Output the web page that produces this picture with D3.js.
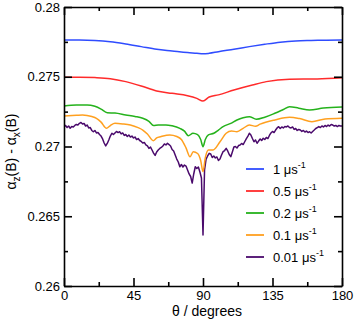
<!DOCTYPE html>
<html>
<head>
<meta charset="utf-8">
<script src="https://cdn.jsdelivr.net/npm/d3@7"></script>
<style>
  body { margin: 0; background: #fff; }
  svg { display: block; font-family: "Liberation Sans", Arial, sans-serif; }
</style>
</head>
<body>
<div class="chart"></div>
<script>
// theta in degrees, value = alpha_z(B) - alpha_x(B)
const blueData = [[0,0.27763],[10,0.27763],[20,0.27760],[30,0.27751],[40,0.27735],[50,0.27716],[60,0.27697],[70,0.27685],[80,0.27673],[86,0.27668],[90,0.27664],[94,0.27668],[100,0.27680],[110,0.27697],[120,0.27716],[130,0.27733],[140,0.27748],[150,0.27757],[160,0.27760],[170,0.27762],[180,0.27763]];

const redData = [[0,0.27496],[10,0.27497],[20,0.27494],[30,0.27486],[40,0.27465],[50,0.27434],[60,0.27398],[70,0.27381],[80,0.27364],[86,0.27345],[90,0.27326],[94,0.27355],[100,0.27370],[110,0.27405],[122,0.27441],[131,0.27465],[146,0.27482],[164,0.27484],[180,0.27493]];

const greenData = [[0,0.27290],[8,0.27298],[15,0.27298],[20,0.27288],[24,0.27268],[28,0.27242],[33,0.27240],[40,0.27226],[46,0.27215],[51,0.27202],[55,0.27180],[58,0.27150],[61,0.27155],[66,0.27155],[70,0.27148],[75,0.27130],[78,0.27110],[80.5,0.27077],[83.5,0.27095],[86.5,0.27085],[88.5,0.27050],[90,0.26999],[91.5,0.27050],[93.5,0.27083],[97,0.27095],[100,0.27118],[103,0.27142],[108,0.27166],[112,0.27190],[116,0.27206],[120,0.27214],[124.5,0.27195],[130,0.27210],[136.5,0.27238],[142,0.27265],[146,0.27285],[152,0.27275],[159,0.27262],[168,0.27276],[180,0.27283]];

const orangeData = [[0,0.27219],[8,0.27224],[12,0.27226],[18,0.27215],[21,0.27202],[24,0.27175],[27.5,0.27130],[30,0.27150],[33,0.27166],[38,0.27162],[43,0.27154],[48,0.27135],[51,0.27118],[54,0.27090],[57.8,0.27042],[60,0.27062],[62.5,0.27070],[68.5,0.27083],[73,0.27072],[76,0.27050],[79,0.26990],[81.6,0.26927],[83.7,0.26963],[86.5,0.26950],[88.5,0.26900],[90,0.26820],[91.5,0.26920],[93.5,0.26975],[96.5,0.26975],[101,0.27034],[105,0.27095],[108.5,0.27111],[112,0.27106],[116,0.27130],[120,0.27154],[124,0.27145],[127,0.27160],[136.5,0.27190],[146,0.27209],[152.5,0.27200],[160.5,0.27178],[169,0.27197],[180,0.27202]];

// 0.01 us^-1 curve, one value per degree 0..180
const purpleVals = [
  0.27142,0.27151,0.27136,0.27147,0.27131,0.27143,0.27140,0.27151,0.27158,0.27154,
  0.27166,0.27172,0.27161,0.27165,0.27147,0.27154,0.27133,0.27136,0.27115,0.27106,
  0.27115,0.27097,0.27100,0.27086,0.27075,0.27054,0.27025,0.27004,0.27022,0.27047,
  0.27075,0.27095,0.27086,0.27097,0.27108,0.27100,0.27106,0.27090,0.27097,0.27079,
  0.27086,0.27072,0.27082,0.27068,0.27075,0.27061,0.27068,0.27050,0.27057,0.27043,
  0.27036,0.27025,0.27029,0.27011,0.27004,0.26986,0.26996,0.26975,0.26953,0.26936,
  0.26961,0.26975,0.26986,0.26993,0.27004,0.27018,0.27011,0.27023,0.27014,0.27004,
  0.26979,0.26968,0.26939,0.26910,0.26889,0.26855,0.26871,0.26853,0.26867,0.26860,
  0.26832,0.26803,0.26785,0.26738,0.26803,0.26855,0.26842,0.26853,0.26817,0.26774,
  0.26366,0.26832,0.26910,0.26932,0.26951,0.26946,0.26921,0.26932,0.26918,0.26925,
  0.26900,0.26910,0.26939,0.26963,0.26971,0.26987,0.26968,0.26943,0.26927,0.26961,
  0.26996,0.27000,0.26989,0.27007,0.27011,0.27022,0.27014,0.27034,0.27054,0.27072,
  0.27095,0.27082,0.27057,0.27034,0.27047,0.27023,0.27039,0.27054,0.27043,0.27059,
  0.27050,0.27065,0.27057,0.27079,0.27097,0.27108,0.27100,0.27118,0.27133,0.27142,
  0.27129,0.27140,0.27133,0.27143,0.27140,0.27147,0.27136,0.27133,0.27140,0.27122,
  0.27129,0.27115,0.27122,0.27118,0.27108,0.27115,0.27104,0.27111,0.27100,0.27106,
  0.27097,0.27108,0.27118,0.27129,0.27136,0.27143,0.27136,0.27147,0.27140,0.27151,
  0.27143,0.27154,0.27147,0.27158,0.27154,0.27147,0.27151,0.27143,0.27151,0.27147,
  0.27147
];
const purpleData = purpleVals.map((v, i) => [i, v]);

const seriesNames = ["1", "0.5", "0.2", "0.1", "0.01"];
const seriesColors = ["#2f4cff", "#ff2b2b", "#25b21c", "#ffa020", "#4a0a6c"];
const xTicks = [0, 45, 90, 135, 180];
const xMinor = [22.5, 67.5, 112.5, 157.5];
const yTicks = [0.26, 0.265, 0.27, 0.275, 0.28];
const yTickLabels = ["0.26", "0.265", "0.27", "0.275", "0.28"];
const yMinor = [0.2625, 0.2675, 0.2725, 0.2775];

const allData = [blueData, redData, greenData, orangeData, purpleData];

const W = 355, H = 323;
const margin = { top: 7, right: 13, bottom: 37, left: 64 };
const width = W - margin.left - margin.right,
  height = H - margin.top - margin.bottom;

const svg = d3.select(".chart").append("svg")
  .attr("width", W).attr("height", H)
  .append("g")
  .attr("transform", "translate(" + margin.left + "," + margin.top + ")");

const xScale = d3.scaleLinear().domain([0, 180]).range([0, width]);
const yScale = d3.scaleLinear().domain([0.26, 0.28]).range([height, 0]);

svg.append("clipPath").attr("id", "clip")
  .append("rect").attr("width", width).attr("height", height);

const line = d3.line().x(d => xScale(d[0])).y(d => yScale(d[1]));
const smooth = d3.line().x(d => xScale(d[0])).y(d => yScale(d[1])).curve(d3.curveMonotoneX);

// draw purple first so the others sit on top
for (let i = allData.length - 1; i >= 0; i--) {
  svg.append("path")
    .datum(allData[i])
    .attr("clip-path", "url(#clip)")
    .attr("fill", "none")
    .attr("stroke", seriesColors[i])
    .attr("stroke-width", 1.5)
    .attr("stroke-linejoin", "round")
    .attr("d", i === 4 ? line : smooth);
}

// axes, ticks pointing inward on all four sides
function styleAxis(g) {
  g.selectAll("path, line").attr("stroke", "#000").attr("stroke-width", 1.6);
  g.selectAll("text").attr("fill", "#000").style("font-size", "13px")
    .style("font-family", "'Liberation Sans', Arial, sans-serif");
}

svg.append("g").attr("transform", `translate(0,${height})`)
  .call(d3.axisBottom(xScale).tickValues(xTicks).tickSizeInner(-8).tickSizeOuter(0).tickPadding(5).tickFormat(d3.format("d")))
  .call(styleAxis);
svg.append("g").attr("transform", `translate(0,${height})`)
  .call(d3.axisBottom(xScale).tickValues(xMinor).tickSize(-4).tickFormat(""))
  .call(styleAxis).select(".domain").remove();

svg.append("g")
  .call(d3.axisTop(xScale).tickValues(xTicks).tickSizeInner(-8).tickSizeOuter(0).tickFormat(""))
  .call(styleAxis);
svg.append("g")
  .call(d3.axisTop(xScale).tickValues(xMinor).tickSize(-4).tickFormat(""))
  .call(styleAxis).select(".domain").remove();

svg.append("g")
  .call(d3.axisLeft(yScale).tickValues(yTicks).tickSizeInner(-8).tickSizeOuter(0).tickPadding(4)
    .tickFormat((d, i) => yTickLabels[i]))
  .call(styleAxis);
svg.append("g")
  .call(d3.axisLeft(yScale).tickValues(yMinor).tickSize(-4).tickFormat(""))
  .call(styleAxis).select(".domain").remove();

svg.append("g").attr("transform", `translate(${width},0)`)
  .call(d3.axisRight(yScale).tickValues(yTicks).tickSizeInner(-8).tickSizeOuter(0).tickFormat(""))
  .call(styleAxis);
svg.append("g").attr("transform", `translate(${width},0)`)
  .call(d3.axisRight(yScale).tickValues(yMinor).tickSize(-4).tickFormat(""))
  .call(styleAxis).select(".domain").remove();

// axis titles
svg.append("text")
  .attr("x", width / 2 + 4)
  .attr("y", height + 30)
  .attr("text-anchor", "middle")
  .style("font-size", "14px")
  .text("\u03b8 / degrees");

const yLabel = svg.append("text")
  .attr("transform", `translate(${16 - margin.left},${height / 2 + 5}) rotate(-90)`)
  .attr("text-anchor", "middle")
  .style("font-size", "14px");
yLabel.append("tspan").text("\u03b1");
yLabel.append("tspan").attr("dy", 4).style("font-size", "10px").text("z");
yLabel.append("tspan").attr("dy", -4).text("(B) - \u03b1");
yLabel.append("tspan").attr("dy", 4).style("font-size", "10px").text("x");
yLabel.append("tspan").attr("dy", -4).text("(B)");

// legend
const legend = svg.append("g").attr("transform", `translate(${246 - margin.left},${169 - margin.top})`);
seriesNames.forEach((name, i) => {
  const row = legend.append("g").attr("transform", `translate(0,${i * 22})`);
  row.append("line").attr("x1", 0).attr("x2", 18).attr("y1", 0).attr("y2", 0)
    .attr("stroke", seriesColors[i]).attr("stroke-width", 1.8);
  const t = row.append("text").attr("x", 27).attr("y", 5).style("font-size", "13px");
  t.append("tspan").text(name + " \u03bcs");
  t.append("tspan").attr("dy", -6).style("font-size", "9px").text("-1");
});
</script>
</body>
</html>
